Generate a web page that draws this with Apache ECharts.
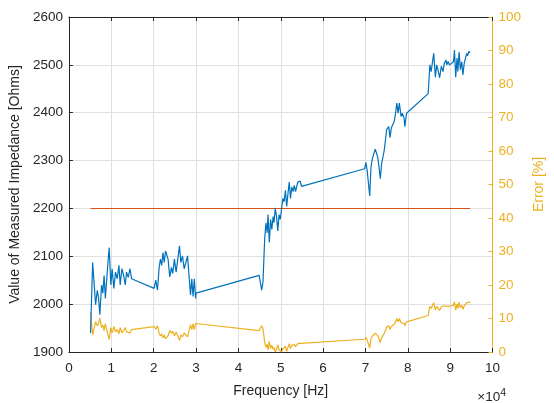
<!DOCTYPE html>
<html>
<head>
<meta charset="utf-8">
<script src="https://cdn.jsdelivr.net/npm/echarts@6/dist/echarts.min.js"></script>
<style>
html,body{margin:0;padding:0;background:#fff;}
#chart{width:554px;height:403px;}
</style>
</head>
<body>
<div id="chart"></div>
<script>
// Frequency in units of 1e4 Hz
const freq = [
 0.51,0.56,0.63,0.67,0.70,0.73,0.77,0.80,0.83,0.86,0.91,0.95,0.99,1.02,1.06,1.10,1.14,1.18,1.21,1.25,1.29,1.33,1.36,1.40,1.44,1.48,
 2.01,2.05,2.09,2.13,2.16,2.19,2.22,2.25,2.28,2.31,2.34,2.38,2.42,2.45,2.49,2.53,2.57,2.61,2.64,2.68,2.72,2.76,2.80,2.84,2.87,2.90,2.93,2.96,2.99,3.00,
 4.49,4.55,4.58,4.62,4.65,4.68,4.70,4.73,4.76,4.79,4.82,4.84,4.87,4.90,4.93,4.96,4.99,5.02,5.05,5.08,5.11,5.14,5.17,5.20,5.23,5.26,5.29,5.32,5.35,5.40,5.46,5.49,
 6.98,7.01,7.04,7.10,7.13,7.16,7.20,7.23,7.26,7.29,7.32,7.35,7.38,7.41,7.44,7.47,7.50,7.53,7.55,7.58,7.61,7.64,7.68,7.71,7.74,7.77,7.80,7.84,7.87,7.91,7.93,7.97,
 8.48,8.52,8.55,8.61,8.65,8.68,8.71,8.75,8.79,8.83,8.86,8.90,8.92,8.95,8.98,9.03,9.08,9.10,9.13,9.16,9.18,9.21,9.24,9.27,9.30,9.33,9.36,9.39,9.41,9.44,9.47
];
// Measured impedance [Ohms]
const impedance = [
 1940,2087,1999,2029,2012,1978,2040,2023,2060,2012,2074,2118,2040,2074,2033,2067,2053,2081,2040,2074,2060,2040,2067,2056,2074,2053,
 2033,2050,2029,2077,2094,2081,2108,2087,2111,2115,2094,2057,2077,2064,2094,2067,2094,2122,2087,2101,2074,2087,2101,2053,2019,2053,2016,2053,2012,2023,
 2060,2029,2046,2135,2170,2149,2187,2129,2177,2156,2183,2170,2200,2183,2153,2187,2177,2200,2221,2214,2238,2204,2231,2255,2221,2245,2235,2248,2235,2255,2257,2246,
 2283,2296,2279,2226,2286,2303,2307,2324,2320,2307,2286,2262,2293,2290,2320,2341,2365,2361,2371,2348,2368,2371,2382,2399,2420,2399,2420,2392,2399,2389,2371,2399,
 2440,2500,2486,2524,2474,2500,2490,2473,2497,2486,2503,2510,2500,2507,2500,2503,2507,2531,2474,2514,2486,2527,2490,2507,2479,2503,2514,2524,2519,2528,2526
];
// Error [%]
const errorPct = [
 11.8,5.1,9.1,7.8,8.5,10.1,7.3,8.0,6.4,8.5,5.7,3.7,7.3,5.7,7.6,6.0,6.7,5.4,7.3,5.7,6.4,7.3,6.0,6.5,5.7,6.7,
 7.6,6.8,7.8,5.6,4.8,5.4,4.2,5.1,4.0,3.9,4.8,6.5,5.6,6.2,4.8,6.0,4.8,3.5,5.1,4.5,5.7,5.1,4.5,6.7,8.2,6.7,8.4,6.7,8.5,8.0,
 6.4,7.8,7.0,3.0,1.4,2.3,0.6,3.2,1.0,2.0,0.8,1.4,0.0,0.8,2.1,0.6,1.0,0.0,1.0,0.6,1.7,0.2,1.4,2.5,1.0,2.0,1.6,2.2,1.6,2.5,2.6,2.1,
 3.8,4.4,3.6,1.2,3.9,4.7,4.9,5.6,5.5,4.9,3.9,2.8,4.2,4.1,5.5,6.4,7.5,7.3,7.8,6.7,7.6,7.8,8.3,9.0,10.0,9.0,10.0,8.7,9.0,8.6,7.8,9.0,
 10.9,13.6,13.0,14.7,12.5,13.6,13.2,12.4,13.5,13.0,13.8,14.1,13.6,14.0,13.6,13.8,14.0,15.0,12.5,14.3,13.0,14.9,13.2,14.0,12.7,13.8,14.3,14.7,14.5,14.9,14.8
];
// Reference (expected) impedance line
const refFreq = [0.51, 9.47];
const refValue = [2200, 2200];

const xTicks = [0,1,2,3,4,5,6,7,8,9,10];
const leftTicks = [1900,2000,2100,2200,2300,2400,2500,2600];
const rightTicks = [0,10,20,30,40,50,60,70,80,90,100];

const zData = freq.map((f,i)=>[f, impedance[i]]);
const eData = freq.map((f,i)=>[f, errorPct[i]]);
const rData = refFreq.map((f,i)=>[f, refValue[i]]);

const dark = '#262626';
const orange = '#EDB120';
const font = 'Liberation Sans, Arial, Helvetica, sans-serif';
const plain = v => String(v);
const tickFont = 13.5;

const chart = echarts.init(document.getElementById('chart'), null, {renderer:'canvas'});
chart.setOption({
  animation: false,
  backgroundColor: '#fff',
  grid: {left: 68.5, right: 48, top: 17, bottom: 45, containLabel: false},
  xAxis: [{
    type: 'value', min: xTicks[0], max: xTicks[xTicks.length-1], interval: 1, position: 'bottom',
    name: 'Frequency [Hz]', nameLocation: 'middle', nameGap: 32,
    nameTextStyle: {color: dark, fontSize: 14, fontFamily: font},
    axisLine: {show: true, onZero: false, lineStyle: {color: dark, width: 1}},
    axisTick: {show: true, inside: true, length: 4, lineStyle: {color: dark}},
    axisLabel: {color: dark, fontSize: tickFont, fontFamily: font, margin: 9, formatter: plain},
    splitLine: {show: true, lineStyle: {color: '#dfdfdf', width: 1}}
  },{
    type: 'value', min: xTicks[0], max: xTicks[xTicks.length-1], interval: 1, position: 'top',
    axisLine: {show: true, onZero: false, lineStyle: {color: dark, width: 1}},
    axisTick: {show: true, inside: true, length: 4, lineStyle: {color: dark}},
    axisLabel: {show: false}, splitLine: {show: false}
  }],
  yAxis: [{
    type: 'value', min: leftTicks[0], max: leftTicks[leftTicks.length-1], interval: 100, position: 'left',
    name: 'Value of Measured Impedance [Ohms]', nameLocation: 'middle', nameGap: 39, nameRotate: 90,
    nameTextStyle: {color: dark, fontSize: 14, fontFamily: font},
    axisLine: {show: true, onZero: false, lineStyle: {color: dark, width: 1}},
    axisTick: {show: true, inside: true, length: 4, lineStyle: {color: dark}},
    axisLabel: {color: dark, fontSize: tickFont, fontFamily: font, margin: 6, formatter: plain},
    splitLine: {show: true, lineStyle: {color: '#dfdfdf', width: 1}}
  },{
    type: 'value', min: rightTicks[0], max: rightTicks[rightTicks.length-1], interval: 10, position: 'right',
    name: 'Error [%]', nameLocation: 'middle', nameGap: 36, nameRotate: 90,
    nameTextStyle: {color: orange, fontSize: 14, fontFamily: font},
    axisLine: {show: true, onZero: false, lineStyle: {color: orange, width: 1}},
    axisTick: {show: true, inside: true, length: 4, lineStyle: {color: orange}},
    axisLabel: {color: orange, fontSize: tickFont, fontFamily: font, margin: 6, formatter: plain},
    splitLine: {show: false}
  }],
  graphic: [{
    type: 'text', right: 48, top: 388,
    style: {
      text: '×10{s|4}', fill: dark, font: tickFont + 'px ' + font,
      rich: {s: {fontSize: 10.5, verticalAlign: 'top', padding: [0,0,8,0], fill: dark, fontFamily: font}}
    }
  }],
  series: [{
    type: 'line', xAxisIndex: 0, yAxisIndex: 0, data: zData, showSymbol: false,
    lineStyle: {color: '#0072BD', width: 1.2}, itemStyle: {color: '#0072BD'}, z: 3
  },{
    type: 'line', xAxisIndex: 0, yAxisIndex: 0, data: rData, showSymbol: false,
    lineStyle: {color: '#D95319', width: 1.1}, itemStyle: {color: '#D95319'}, z: 2
  },{
    type: 'line', xAxisIndex: 0, yAxisIndex: 1, data: eData, showSymbol: false,
    lineStyle: {color: orange, width: 1.2}, itemStyle: {color: orange}, z: 2
  }]
});
</script>
</body>
</html>
